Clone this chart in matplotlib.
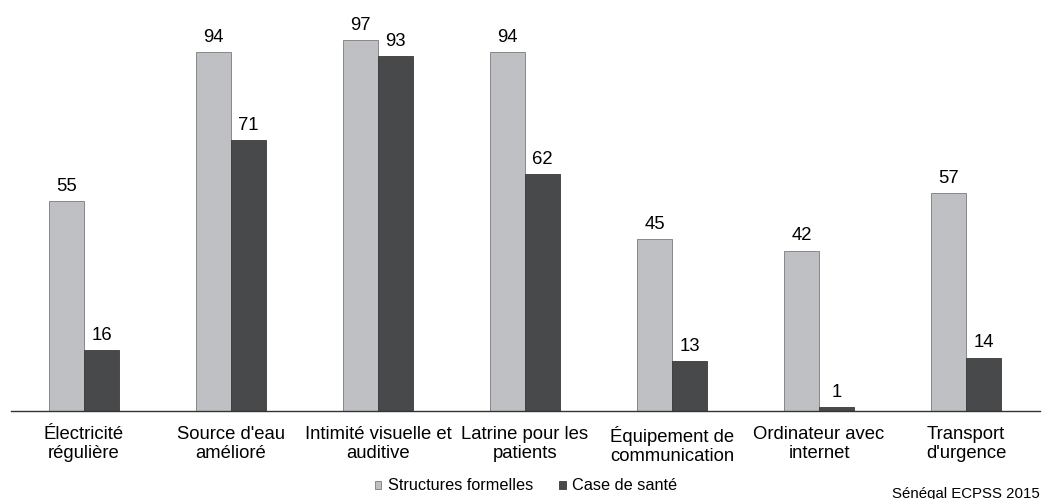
import numpy as np
import matplotlib
matplotlib.use('Agg')
import matplotlib.pyplot as plt

plt.rcParams['font.family'] = ['Liberation Sans', 'DejaVu Sans']

categories = ["Électricité\nrégulière", "Source d'eau\namélioré", "Intimité visuelle et\nauditive",
              "Latrine pour les\npatients", "Équipement de\ncommunication", "Ordinateur avec\ninternet",
              "Transport\nd'urgence"]
formelles = [55, 94, 97, 94, 45, 42, 57]
case_sante = [16, 71, 93, 62, 13, 1, 14]

fig = plt.figure(figsize=(10.42, 4.99), dpi=100)
ax = fig.add_axes([10.5/1042, 1-411/499, 1029/1042, (411-29)/499])

x = np.arange(len(categories))
w = 0.238
b1 = ax.bar(x - w/2, formelles, w, color='#bfc0c4', edgecolor='#7a7a7a', linewidth=0.6, label='Structures formelles')
b2 = ax.bar(x + w/2, case_sante, w, color='#48494b', edgecolor='#3a3a3a', linewidth=0.6, label='Case de santé')

for rect, v in zip(b1, formelles):
    ax.text(rect.get_x() + rect.get_width()/2, v + 1.6, str(v), ha='center', va='bottom', fontsize=13.3)
for rect, v in zip(b2, case_sante):
    ax.text(rect.get_x() + rect.get_width()/2, v + 1.6, str(v), ha='center', va='bottom', fontsize=13.3)

ax.set_xlim(-0.5, len(categories) - 0.5)
ax.set_ylim(0, 100)
ax.set_xticks(x)
ax.set_xticklabels(categories, fontsize=13.3, linespacing=1.15)
ax.tick_params(axis='x', length=0, pad=11)
ax.set_yticks([])
for s in ['top', 'right', 'left']:
    ax.spines[s].set_visible(False)
ax.spines['bottom'].set_color('#333333')
ax.spines['bottom'].set_linewidth(1.0)

fig.legend(handles=[b1, b2], loc='center', bbox_to_anchor=(526/1042, 1-486/499), ncol=2,
           frameon=False, fontsize=11.7, handlelength=0.4, handleheight=0.4,
           handletextpad=0.4, columnspacing=1.6)
fig.text(1040/1042, 1-494/499, 'Sénégal ECPSS 2015', ha='right', va='center', fontsize=10.8)

fig.savefig('out.png', dpi=100)
